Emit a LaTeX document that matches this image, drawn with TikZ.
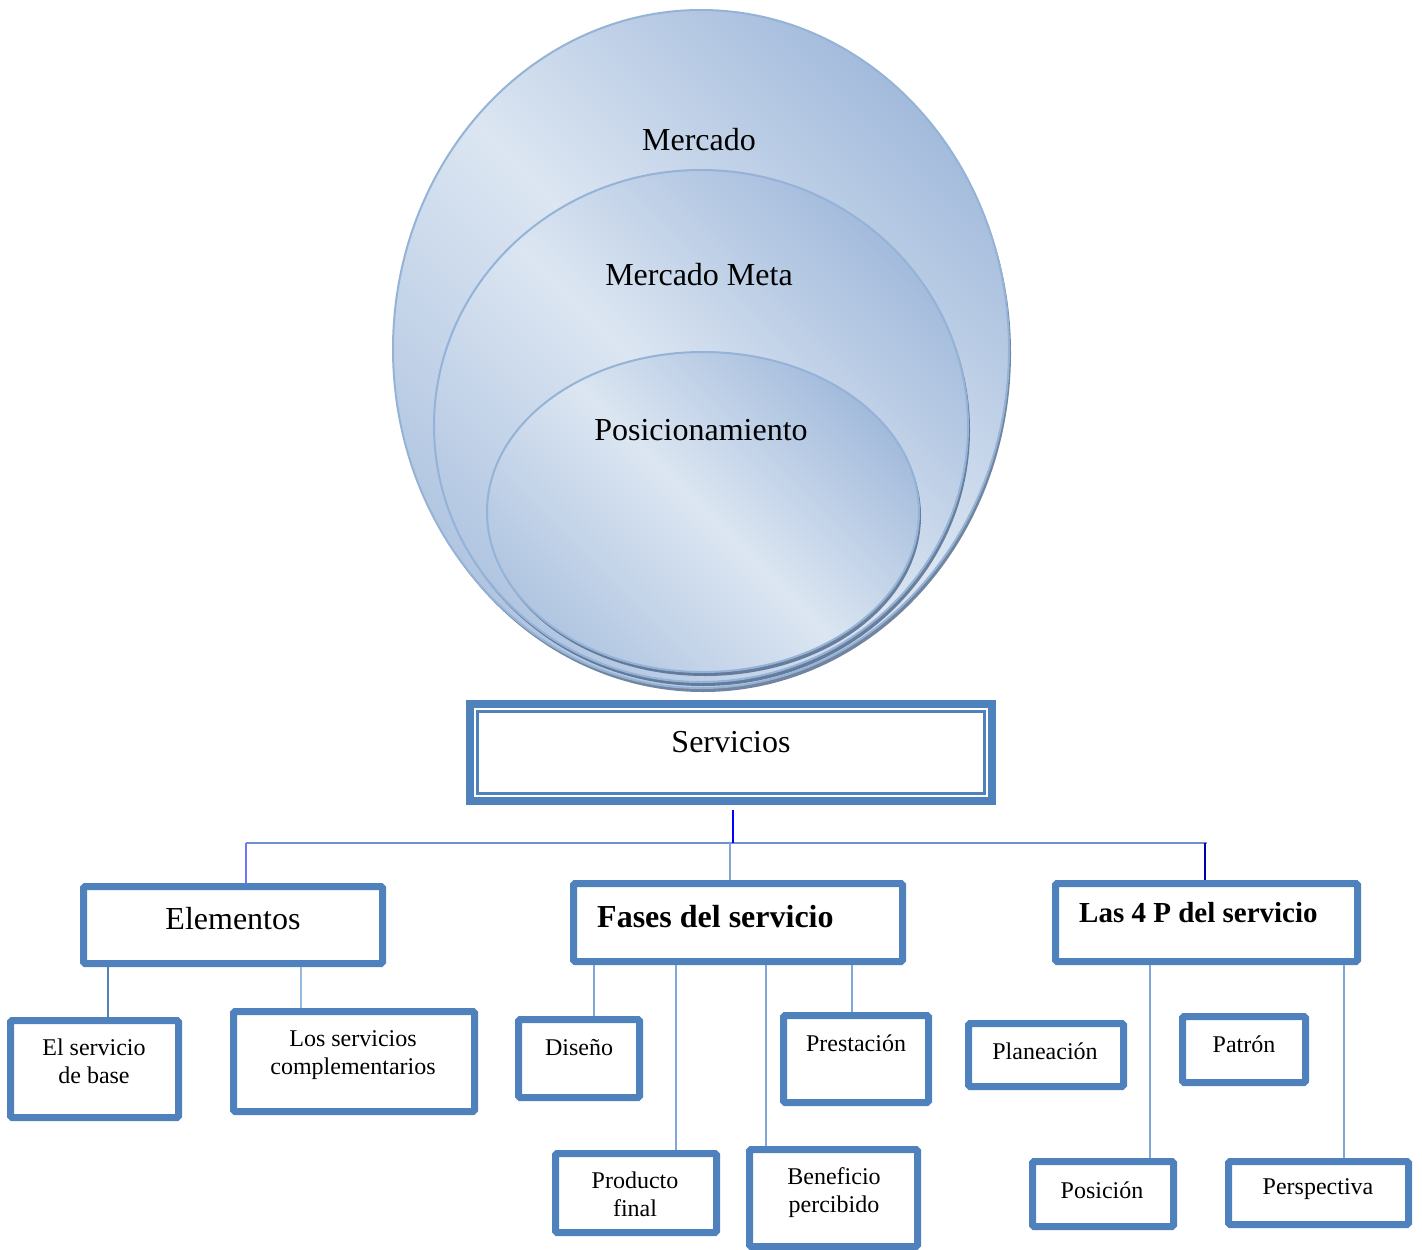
\documentclass[tikz,border=0pt]{standalone}
\usepackage{fontspec}
\setmainfont{Liberation Serif}
\definecolor{boxblue}{HTML}{4F81BD}
\definecolor{linkblue}{HTML}{7FA8D8}
\definecolor{barblue}{HTML}{6F8FCF}
\definecolor{ringlight}{HTML}{DCE6F2}
\definecolor{ringdark}{HTML}{A3BBDC}
\definecolor{ringedge}{HTML}{95B3D7}
\definecolor{ringshadow}{HTML}{4E6688}
\tikzset{
  box/.style={draw=boxblue, line width=7, rounded corners=1.5, fill=white, inner sep=0},
  ring/.style={draw=ringedge, line width=2, top color=ringdark, bottom color=ringdark!75!ringlight,
    middle color=ringlight, shading angle=-45},
  ringshade/.style={fill=ringshadow, opacity=.8},
  big/.style={font=\fontsize{32}{38}\selectfont, inner sep=0},
  small/.style={font=\fontsize{24}{28}\selectfont, align=center, inner sep=0},
  link/.style={draw=linkblue, line width=1.3},
}
\begin{document}
\begin{tikzpicture}[x=1pt, y=-1pt]
  \useasboundingbox (0,0) rectangle (1422,1250);
  % rings
  \fill[ringshade] (703,353) ellipse (308 and 339);
  \draw[ring] (701,349) ellipse (308 and 339);
  \fill[ringshade] (703,430) ellipse (267 and 256);
  \draw[ring] (701,426) ellipse (267 and 256);
  \fill[ringshade] (705,516) ellipse (216 and 160);
  \draw[ring] (703,512) ellipse (216 and 160);
  \node[big] (merc) at (699,140) {Mercado};
  \node[big] (meta) at (699,275) {Mercado Meta};
  \node[big] (posic) at (701,430) {Posicionamiento};
  % top box
  \node[box, line width=8, rounded corners=0, minimum width=522, minimum height=97] (serv) at (731,752.5) {};
  \draw[boxblue, line width=2.5] ([xshift=11.5,yshift=-11.5]serv.north west) rectangle ([xshift=-11.5,yshift=11.5]serv.south east);
  \node[big] (serv-t) at (731,742) {Servicios};
  % second level
  \node[box, minimum width=299, minimum height=77] (elem) at (233,925) {};
  \node[box, minimum width=329, minimum height=78] (fases) at (738,922.5) {};
  \node[box, minimum width=302, minimum height=78] (cuatro) at (1206.5,922.5) {};
  \node[big] (elem-t) at (233,919) {Elementos};
  \node[big, anchor=west, font=\fontsize{32}{38}\selectfont\bfseries] (fases-t) at (597,917) {Fases del servicio};
  \node[big, anchor=west, font=\fontsize{29}{35}\selectfont\bfseries] (cuatro-t) at (1079,913) {Las 4 P del servicio};
  % third level
  \node[box, minimum width=168, minimum height=97] (base) at (94.5,1069) {};
  \node[box, minimum width=241, minimum height=100] (compl) at (354,1061.5) {};
  \node[box, minimum width=121, minimum height=78] (diseno) at (579,1058.5) {};
  \node[box, minimum width=161, minimum height=79] (producto) at (636,1193) {};
  \node[box, minimum width=145, minimum height=87] (prestacion) at (856,1059) {};
  \node[box, minimum width=168, minimum height=97] (beneficio) at (833.5,1198) {};
  \node[box, minimum width=155, minimum height=63] (planeacion) at (1046,1055) {};
  \node[box, minimum width=123, minimum height=66] (patron) at (1244,1049.5) {};
  \node[box, minimum width=141, minimum height=65] (posicion) at (1103,1194) {};
  \node[box, minimum width=180, minimum height=63] (perspectiva) at (1318.5,1193) {};
  \node[small] (base-t) at (94,1061) {El servicio\\de base};
  \node[small] (compl-t) at (353,1055) {Los servicios\\complementarios};
  \node[small] (diseno-t) at (579,1048) {Diseño};
  \node[small] (producto-t) at (635,1194) {Producto\\final};
  \node[small] (prestacion-t) at (856,1043) {Prestación};
  \node[small] (beneficio-t) at (834,1193) {Beneficio\\percibido};
  \node[small] (planeacion-t) at (1045,1051) {Planeación};
  \node[small] (patron-t) at (1244,1044) {Patrón};
  \node[small] (posicion-t) at (1102,1190) {Posición};
  \node[small] (perspectiva-t) at (1318,1189) {Perspectiva};
  % connectors
  \coordinate (bar-l) at (246,843);
  \coordinate (hub) at (733,843);
  \coordinate (bar-r) at (1207,843);
  \begin{scope}[link]
    \draw[barblue, line width=1.2] (bar-l) -- (bar-r);
    \draw[blue, line width=2] ([xshift=2,yshift=-5]serv.south) -- (hub);
    \draw[blue!55!white] (bar-l) -- (bar-l |- elem.north);
    \draw ([xshift=-8]fases.north) -- ([xshift=-8]fases.north |- hub);
    \draw[blue!70!black] ([xshift=-1.5]cuatro.north) -- ([xshift=-1.5]cuatro.north |- bar-r);
    \draw[boxblue] ([xshift=13.5]base.north) -- ([xshift=13.5]base.north |- elem.south);
    \draw[linkblue!80!white] ([xshift=-53]compl.north) -- ([xshift=-53]compl.north |- elem.south);
    \draw ([xshift=15]diseno.north) -- ([xshift=15]diseno.north |- fases.south);
    \draw ([xshift=40]producto.north) -- ([xshift=40]producto.north |- fases.south);
    \draw ([xshift=-67.5]beneficio.north) -- ([xshift=-67.5]beneficio.north |- fases.south);
    \draw ([xshift=-4]prestacion.north) -- ([xshift=-4]prestacion.north |- fases.south);
    \draw ([xshift=47]posicion.north) -- ([xshift=47]posicion.north |- cuatro.south);
    \draw ([xshift=25.5]perspectiva.north) -- ([xshift=25.5]perspectiva.north |- cuatro.south);
  \end{scope}
\end{tikzpicture}
\end{document}
